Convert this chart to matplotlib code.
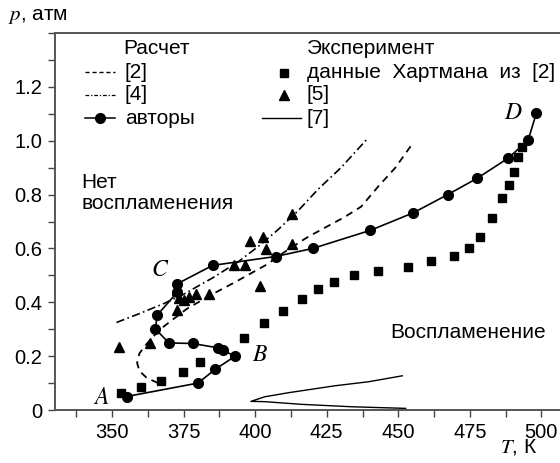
import numpy as np
import matplotlib.pyplot as plt
from matplotlib.ticker import MultipleLocator, FuncFormatter

plt.rcParams['font.family'] = ['Liberation Sans', 'DejaVu Sans']
plt.rcParams['mathtext.fontset'] = 'stix'

# authors' calculation (circles, solid line), path A -> B -> C -> D
auth_T = [355, 380, 386, 393, 388.6, 386.9, 378.1, 369.8, 365.1, 365.7, 372.8, 372.8, 385.1,
          407.1, 420.1, 440.2, 455.2, 467.3, 477.5, 488.4, 495.4, 498.3]
auth_p = [0.05, 0.10, 0.151, 0.200, 0.222, 0.231, 0.247, 0.249, 0.301, 0.352, 0.438, 0.469, 0.537,
          0.570, 0.600, 0.667, 0.732, 0.800, 0.860, 0.935, 1.002, 1.103]

# calculation [2], dashed
c2_T = [366, 362, 359.5, 358.7, 359.5, 362, 365, 368, 376, 385, 393, 404, 410, 418, 424, 431,
        437, 443, 449, 454.7]
c2_p = [0.10, 0.12, 0.145, 0.175, 0.21, 0.245, 0.28, 0.31, 0.375, 0.43, 0.475, 0.54, 0.585,
        0.64, 0.675, 0.715, 0.755, 0.83, 0.90, 0.985]

# calculation [4], dash-dot
c4_T = [351.5, 360, 368, 375, 385, 394, 402, 408, 415, 422, 430, 439]
c4_p = [0.325, 0.36, 0.395, 0.43, 0.49, 0.55, 0.615, 0.67, 0.74, 0.82, 0.90, 1.005]

# Hartmann data from [2], squares
hart_T = [353.1, 360.2, 366.9, 374.8, 380.6, 396.0, 403.1, 409.8, 416.2, 421.8, 427.6, 434.4,
          442.9, 453.4, 461.6, 469.4, 474.6, 478.6, 482.9, 486.3, 488.6, 490.5, 491.7, 493.4]
hart_p = [0.062, 0.086, 0.107, 0.142, 0.179, 0.269, 0.323, 0.368, 0.411, 0.448, 0.475, 0.500,
          0.516, 0.531, 0.552, 0.573, 0.601, 0.642, 0.712, 0.786, 0.836, 0.883, 0.938, 0.978]

# experiment [5], triangles
e5_T = [352.5, 363.1, 372.8, 372.6, 373.5, 375, 377, 379.2, 383.9, 392.7, 396.5, 401.5,
        398.3, 402.7, 403.9, 413, 412.7]
e5_p = [0.235, 0.249, 0.370, 0.445, 0.415, 0.41, 0.42, 0.432, 0.432, 0.537, 0.537, 0.459,
        0.626, 0.642, 0.599, 0.617, 0.728]

# experiment [7], thin solid wedge
e7_T = [452.6, 433.8, 416.2, 403.3, 398.5, 403.3, 411.5, 427.9, 439.7, 451.4]
e7_p = [0.006, 0.012, 0.021, 0.031, 0.032, 0.049, 0.064, 0.090, 0.105, 0.127]

fig = plt.figure(figsize=(5.6, 4.63), dpi=100)
ax = fig.add_axes([55 / 560, 1 - 410 / 463, 1 - 55 / 560 + 0.01, (410 - 33) / 463])

ax.plot(c2_T, c2_p, color='black', lw=1.3, ls=(0, (4, 3)))
ax.plot(c4_T, c4_p, color='black', lw=1.2, ls=(0, (5, 2, 1, 2)))
ax.plot(e7_T, e7_p, color='black', lw=1.0)
ax.plot(hart_T, hart_p, ls='none', marker='s', ms=5.8, color='black')
ax.plot(e5_T, e5_p, ls='none', marker='^', ms=7.2, color='black')
ax.plot(auth_T, auth_p, color='black', lw=1.2, marker='o', ms=7)

ax.set_xlim(330, 508.5)
ax.set_ylim(0, 1.4)
ax.xaxis.set_minor_locator(MultipleLocator(12.5))
ax.yaxis.set_minor_locator(MultipleLocator(0.1))
ax.set_xticks([350, 375, 400, 425, 450, 475, 500])
ax.set_yticks([0, 0.2, 0.4, 0.6, 0.8, 1.0, 1.2])
ax.yaxis.set_major_formatter(FuncFormatter(lambda v, pos: '0' if abs(v) < 1e-9 else f'{v:.1f}'))
ax.tick_params(which='both', direction='out', length=5, width=1.0, color='#444444',
               labelsize=14.5, pad=4)
ax.spines['right'].set_visible(False)
for s in ['left', 'top', 'bottom']:
    ax.spines[s].set_color('#555555')
    ax.spines[s].set_linewidth(1.4)

fs = 15
fig.text(8 / 560, 1 - 17 / 463, r'$p$, атм', fontsize=fs, va='center', ha='left')
fig.text(500 / 560, 1 - 447 / 463, r'$T$, К', fontsize=fs, va='center', ha='left')

for lab, (x, y) in {'A': (101, 398), 'B': (260, 355), 'C': (160, 270), 'D': (513, 113)}.items():
    fig.text(x / 560, 1 - y / 463, f'${lab}$', fontsize=17, ha='center', va='center')

fig.text(81 / 560, 1 - 182 / 463, 'Нет', fontsize=fs, va='center')
fig.text(81 / 560, 1 - 204 / 463, 'воспламенения', fontsize=fs, va='center')
fig.text(390 / 560, 1 - 332 / 463, 'Воспламенение', fontsize=fs, va='center')

# legend, left block
fig.text(123 / 560, 1 - 48 / 463, 'Расчет', fontsize=fs, va='center')
leg_y = [72, 95, 118]
for y, lab in zip(leg_y, ['[2]', '[4]', 'авторы']):
    fig.text(125 / 560, 1 - y / 463, lab, fontsize=fs, va='center')
fig.add_artist(plt.Line2D([85 / 560, 115 / 560], [1 - 72 / 463] * 2, color='black', lw=1.0,
                          ls=(0, (3, 2))))
fig.add_artist(plt.Line2D([85 / 560, 115 / 560], [1 - 95 / 463] * 2, color='black', lw=0.9,
                          ls=(0, (3, 1.5, 1, 1.5))))
fig.add_artist(plt.Line2D([85 / 560, 115 / 560], [1 - 118 / 463] * 2, color='black', lw=1.1))
fig.add_artist(plt.Line2D([100 / 560], [1 - 118 / 463], color='black', marker='o', ms=7))

# legend, right block
fig.text(307 / 560, 1 - 48 / 463, 'Эксперимент', fontsize=fs, va='center')
for y, lab in zip(leg_y, ['данные  Хартмана  из  [2]', '[5]', '[7]']):
    fig.text(307 / 560, 1 - y / 463, lab, fontsize=fs, va='center')
fig.add_artist(plt.Line2D([284 / 560], [1 - 73 / 463], color='black', marker='s', ms=5.8))
fig.add_artist(plt.Line2D([284 / 560], [1 - 95 / 463], color='black', marker='^', ms=7.2))
fig.add_artist(plt.Line2D([262 / 560, 301 / 560], [1 - 118 / 463] * 2, color='black', lw=1.0))

fig.savefig('out.png', dpi=100)
